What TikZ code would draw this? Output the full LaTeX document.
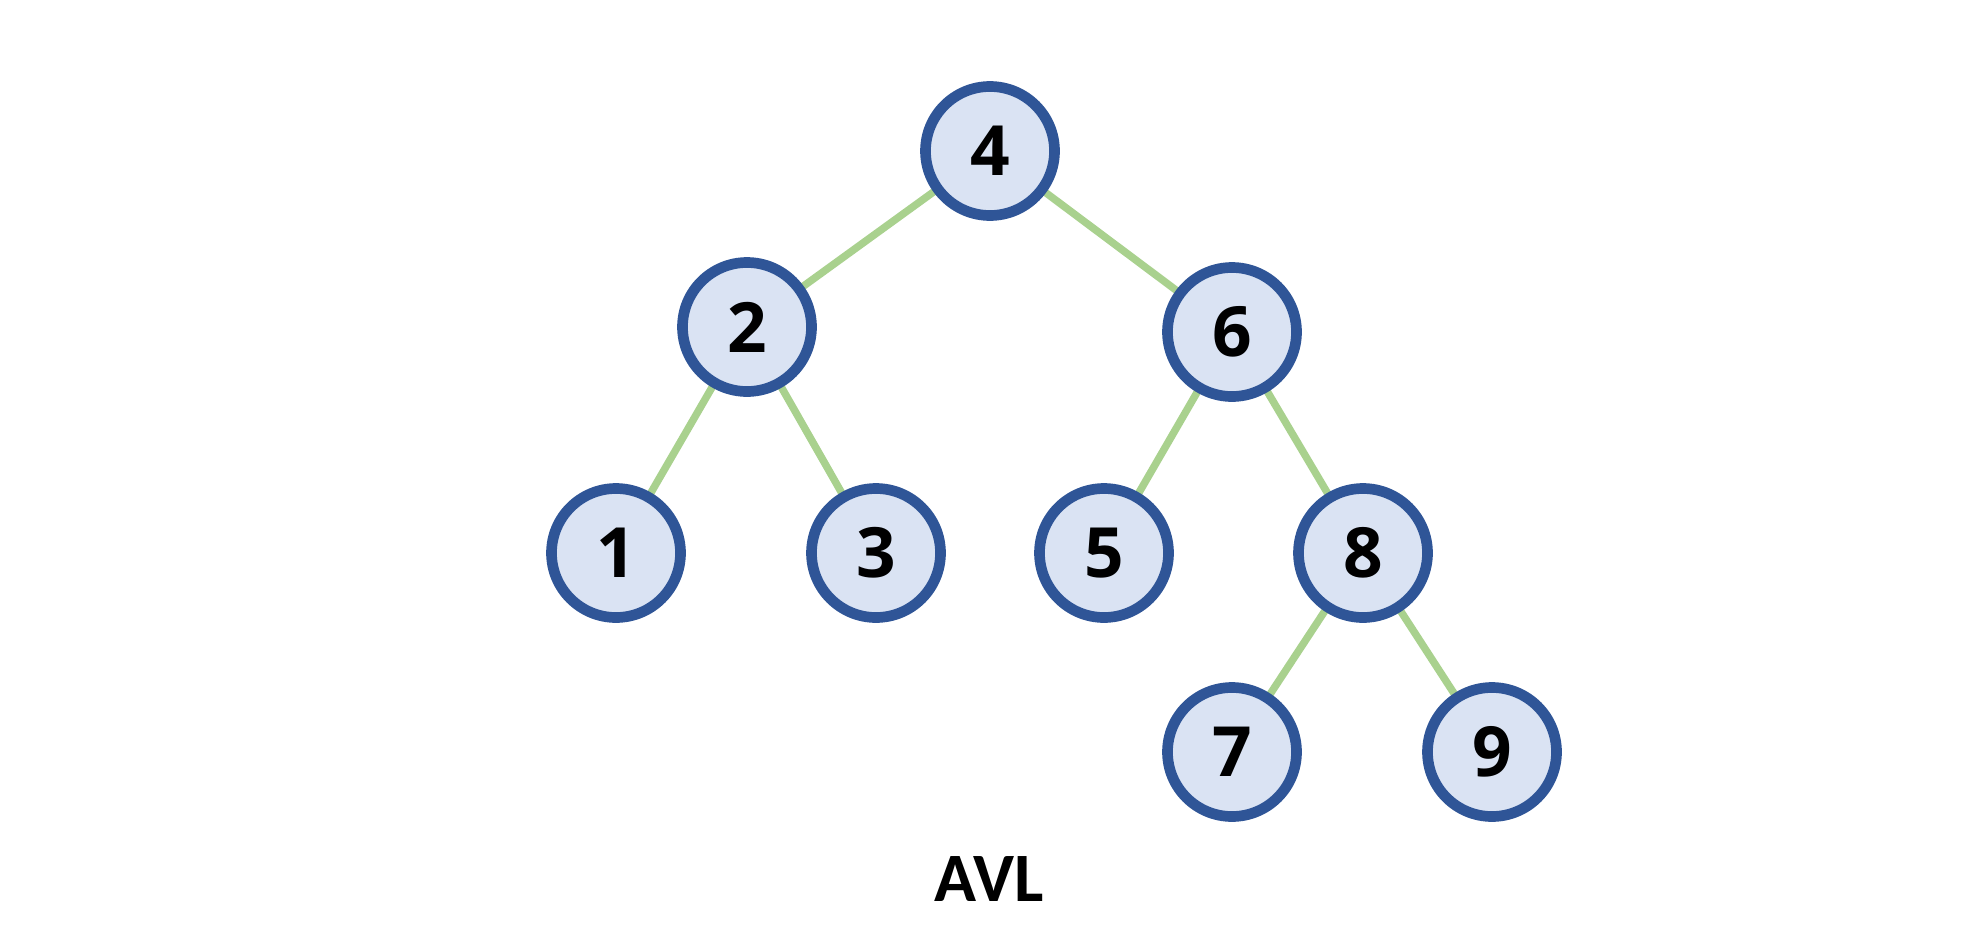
\documentclass[tikz,border=0pt]{standalone}
\usepackage{fontspec}
\setmainfont{Carlito}
\newfontfamily\digitfont{Open Sans}
\usetikzlibrary{backgrounds}
\definecolor{nodeblue}{HTML}{2F5597}
\definecolor{nodefill}{HTML}{DAE3F3}
\definecolor{edgegreen}{HTML}{A9D18E}
\begin{document}
\begin{tikzpicture}[x=0.75pt,y=-0.75pt,
  tnode/.style={circle,draw=nodeblue,fill=nodefill,line width=8pt,minimum size=129*0.75pt,inner sep=0pt,font=\digitfont\fontsize{52}{56}\selectfont\bfseries},
  tedge/.style={draw=edgegreen,line width=5.6pt}]
\useasboundingbox (0,0) rectangle (1988,928);
\node[tnode] (n4) at (990,151) {4};
\node[tnode] (n2) at (747,327) {2};
\node[tnode] (n6) at (1232,332) {6};
\node[tnode] (n1) at (616,553) {1};
\node[tnode] (n3) at (876,553) {3};
\node[tnode] (n5) at (1104,553) {5};
\node[tnode] (n8) at (1363,553) {8};
\node[tnode] (n7) at (1232,752) {7};
\node[tnode] (n9) at (1492,752) {9};
\node[font=\fontsize{52}{56}\selectfont\bfseries] (title) at (989,879) {AVL};
\begin{pgfonlayer}{background}
\draw[tedge] (n4.center) -- (n2.center);
\draw[tedge] (n4.center) -- (n6.center);
\draw[tedge] (n2.center) -- (n1.center);
\draw[tedge] (n2.center) -- (n3.center);
\draw[tedge] (n6.center) -- (n5.center);
\draw[tedge] (n6.center) -- (n8.center);
\draw[tedge] (n8.center) -- (n7.center);
\draw[tedge] (n8.center) -- (n9.center);
\end{pgfonlayer}
\end{tikzpicture}
\end{document}
